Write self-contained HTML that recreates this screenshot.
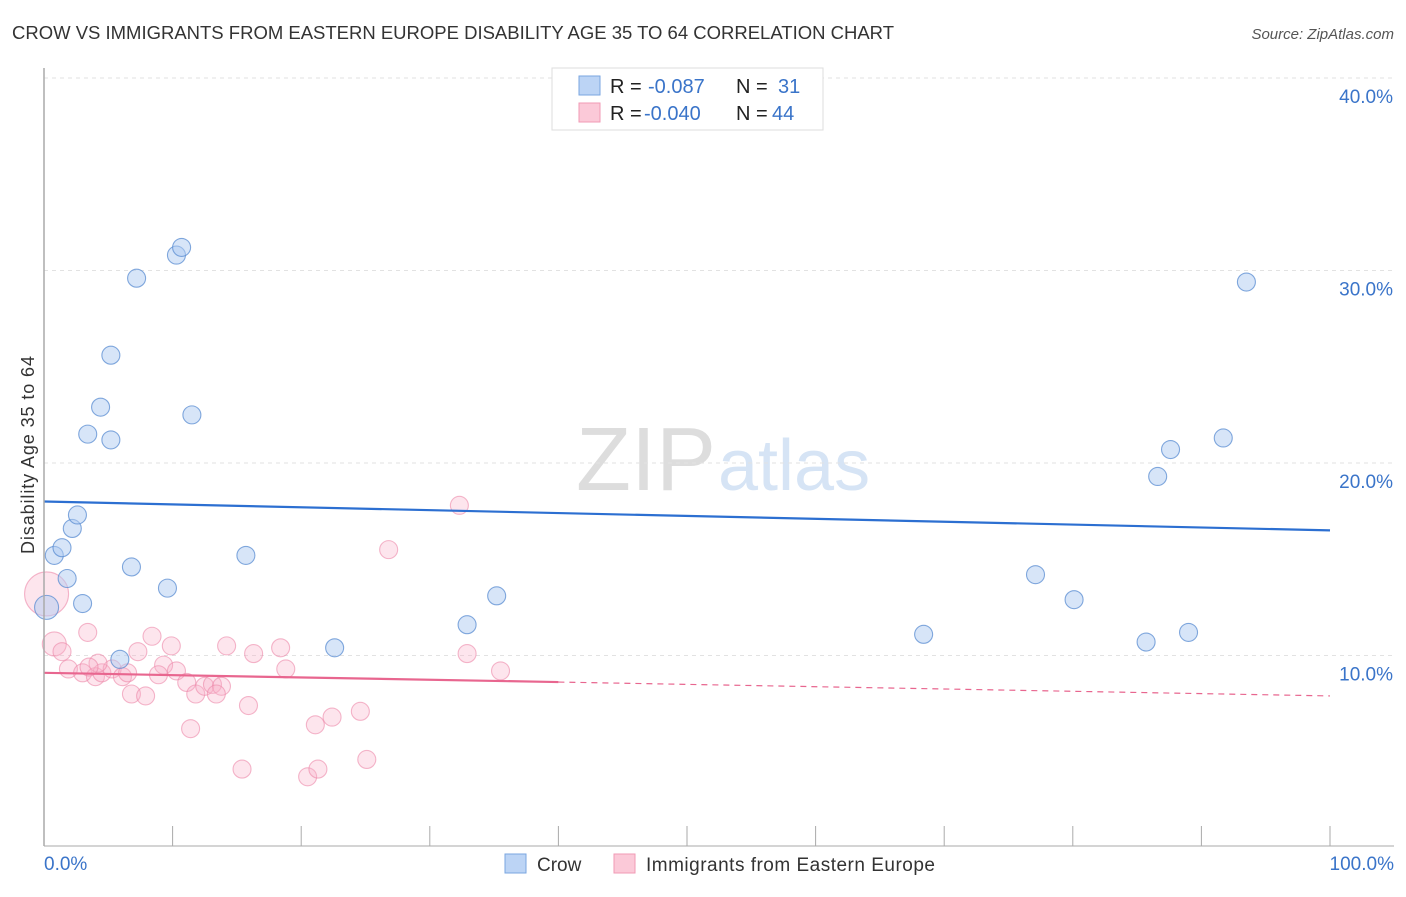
<!DOCTYPE html>
<html><head><meta charset="utf-8"><style>
body{margin:0;background:#fff;font-family:"Liberation Sans",sans-serif;}
svg text{font-family:"Liberation Sans",sans-serif;}
</style></head><body>
<svg id="chart" width="1406" height="892">
<text x="12" y="39" font-size="18.5" fill="#333" textLength="882">CROW VS IMMIGRANTS FROM EASTERN EUROPE DISABILITY AGE 35 TO 64 CORRELATION CHART</text>
<text x="1394" y="39" font-size="15" fill="#555" font-style="italic" text-anchor="end">Source: ZipAtlas.com</text>
<text x="34" y="455" font-size="18" fill="#333" text-anchor="middle" textLength="198" transform="rotate(-90 34 455)">Disability Age 35 to 64</text>
<text x="716" y="490" font-size="90" fill="#ddd" text-anchor="end" font-family="Liberation Serif">ZIP</text>
<text x="718" y="490" font-size="72" fill="#d6e4f5">atlas</text>
<g id="grid"></g><g id="pts"></g><g id="lines"></g>
<line x1="44" y1="68" x2="44" y2="846" stroke="#aaa" stroke-width="1.5"/>
<line x1="44" y1="846" x2="1394" y2="846" stroke="#aaa" stroke-width="1"/>
<text x="44" y="870" font-size="19" fill="#3a74c9">0.0%</text>
<text x="1394" y="870" font-size="19" fill="#3a74c9" text-anchor="end">100.0%</text>
<g>
<rect x="552" y="68" width="271" height="62" fill="#fff" stroke="#ddd"/>
<rect x="579" y="76" width="21" height="19" fill="#bcd4f5" stroke="#7aa6e0"/>
<rect x="579" y="103" width="21" height="19" fill="#fbc9d8" stroke="#f09ab5"/>
<text x="610" y="93" font-size="20" fill="#222">R = <tspan fill="#3a74c9" x="648">-0.087</tspan><tspan x="736">N = </tspan><tspan fill="#3a74c9" x="778">31</tspan></text>
<text x="610" y="120" font-size="20" fill="#222">R = <tspan fill="#3a74c9" x="644">-0.040</tspan><tspan x="736">N = </tspan><tspan fill="#3a74c9" x="772">44</tspan></text>
</g>
<g>
<rect x="505" y="854" width="21" height="19" fill="#bcd4f5" stroke="#7aa6e0"/>
<text x="537" y="871" font-size="19" fill="#333">Crow</text>
<rect x="614" y="854" width="21" height="19" fill="#fbc9d8" stroke="#f09ab5"/>
<text x="646" y="871" font-size="19" fill="#333" textLength="289">Immigrants from Eastern Europe</text>
</g>
</svg>
<script>
const yTicks=[10,20,30,40];
const yTickLabels=["10.0%","20.0%","30.0%","40.0%"];
const xTicks=[0,10,20,30,40,50,60,70,80,90,100];
const crowX=[0.2,0.8,1.4,1.8,2.2,2.6,3.0,3.4,4.4,5.2,5.2,5.9,6.8,7.2,9.6,10.3,10.7,11.5,15.7,22.6,32.9,35.2,68.4,77.1,80.1,85.7,86.6,87.6,89.0,91.7,93.5];
const crowY=[12.5,15.2,15.6,14.0,16.6,17.3,12.7,21.5,22.9,25.6,21.2,9.8,14.6,29.6,13.5,30.8,31.2,22.5,15.2,10.4,11.6,13.1,11.1,14.2,12.9,10.7,19.3,20.7,11.2,21.3,29.4];
const crowS=[12,9,9,9,9,9,9,9,9,9,9,9,9,9,9,9,9,9,9,9,9,9,9,9,9,9,9,9,9,9,9];
const immX=[0.2,0.8,1.4,3.4,1.9,3.0,4.0,4.5,5.3,6.1,6.5,7.3,8.4,9.9,9.3,8.9,10.3,11.1,11.8,12.5,13.1,13.8,13.4,6.8,7.9,11.4,14.2,16.3,18.4,18.8,15.9,15.4,21.1,22.4,24.6,20.5,21.3,25.1,32.9,35.5,32.3,26.8,4.2,3.5];
const immY=[13.2,10.6,10.2,11.2,9.3,9.1,8.9,9.1,9.3,8.9,9.1,10.2,11.0,10.5,9.5,9.0,9.2,8.6,8.0,8.4,8.5,8.4,8.0,8.0,7.9,6.2,10.5,10.1,10.4,9.3,7.4,4.1,6.4,6.8,7.1,3.7,4.1,4.6,10.1,9.2,17.8,15.5,9.6,9.4];
const immS=[22,12,9,9,9,9,9,9,9,9,9,9,9,9,9,9,9,9,9,9,9,9,9,9,9,9,9,9,9,9,9,9,9,9,9,9,9,9,9,9,9,9,9,9];
const crowTrend=[18.0,16.5];
const immTrend=[9.1,7.9];
const NS='http://www.w3.org/2000/svg';
const X=v=>44+v*12.86, Y=v=>848-v*19.25;
function mk(t,a,p){const e=document.createElementNS(NS,t);for(const k in a)e.setAttribute(k,a[k]);p.appendChild(e);return e;}
const grid=document.getElementById('grid');
yTicks.forEach((t,i)=>{
 const l=mk('line',{x1:44,x2:1394,y1:Y(t),y2:Y(t),stroke:'#e2e2e2','stroke-dasharray':'4,4'},grid);
 
 
 const tx=mk('text',{x:1393,y:Y(t)+25,'font-size':19,fill:'#3a74c9','text-anchor':'end'},grid);
 tx.textContent=yTickLabels[i];
 
 
});
xTicks.forEach(t=>{
 const l=mk('line',{x1:X(t),x2:X(t),y1:826,y2:846,stroke:'#aaa'},grid);
 
 
});
const pts=document.getElementById('pts');
immX.forEach((v,i)=>{
 const c=mk('circle',{cx:X(v),cy:Y(immY[i]),r:immS[i],fill:'rgba(248,175,198,0.32)',stroke:'rgba(236,135,168,0.6)','stroke-width':1.1},pts);
 
 
});
crowX.forEach((v,i)=>{
 const c=mk('circle',{cx:X(v),cy:Y(crowY[i]),r:crowS[i],fill:'rgba(175,204,242,0.5)',stroke:'rgba(90,140,210,0.75)','stroke-width':1.1},pts);
 
 
});
const lines=document.getElementById('lines');
const bl=mk('line',{x1:X(0),y1:Y(crowTrend[0]),x2:X(100),y2:Y(crowTrend[1]),stroke:'#2c6fd1','stroke-width':2.2},lines);


const mid=immTrend[0]+(immTrend[1]-immTrend[0])*0.4;
const pl=mk('line',{x1:X(0),y1:Y(immTrend[0]),x2:X(40),y2:Y(mid),stroke:'#e8668f','stroke-width':2.2},lines);


const pd=mk('line',{x1:X(40),y1:Y(mid),x2:X(100),y2:Y(immTrend[1]),stroke:'#e8668f','stroke-width':1.2,'stroke-dasharray':'6,5'},lines);


</script>
</body></html>
